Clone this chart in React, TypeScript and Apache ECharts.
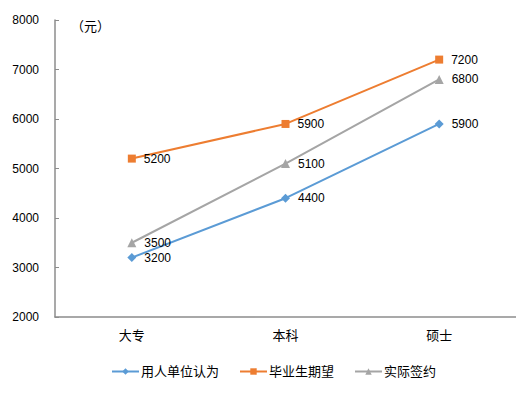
import React, { useEffect, useRef } from "react";
import * as echarts from "echarts";

const categories = ["大专", "本科", "硕士"];
const employerView = [3200, 4400, 5900];
const graduateExpect = [5200, 5900, 7200];
const actualSigned = [3500, 5100, 6800];
const seriesNames = ["用人单位认为", "毕业生期望", "实际签约"];
const yUnit = "（元）";

export default function App() {
  const ref = useRef<HTMLDivElement>(null);
  useEffect(() => {
    const chart = echarts.init(ref.current!, null, { renderer: "svg" });
    const font = "'Liberation Sans', 'Noto Sans CJK SC', sans-serif";
    const cjk = "'Noto Sans CJK SC', sans-serif";
    const lbl = {
      show: true,
      position: "right" as const,
      distance: 8,
      color: "#000",
      fontSize: 12,
      fontFamily: font,
    };
    const mk = (name: string, data: number[], color: string, symbol: string, size: number) => ({
      name,
      type: "line" as const,
      data,
      symbol,
      symbolSize: size,
      itemStyle: { color },
      lineStyle: { color, width: 2 },
      label: lbl,
    });
    chart.setOption({
      animation: false,
      backgroundColor: "#fff",
      textStyle: { fontFamily: font },
      grid: { left: 55, top: 20, width: 464, height: 297, containLabel: false },
      xAxis: {
        type: "category",
        data: categories,
        boundaryGap: true,
        axisLine: { lineStyle: { color: "#8c8c8c", width: 1.5 } },
        axisTick: { show: false },
        axisLabel: { color: "#000", fontSize: 13, margin: 12, fontFamily: font },
      },
      yAxis: {
        type: "value",
        min: 2000,
        max: 8000,
        interval: 1000,
        axisLine: { show: true, lineStyle: { color: "#8c8c8c", width: 1.5 } },
        axisTick: { show: true, inside: true, length: 4, lineStyle: { color: "#8c8c8c" } },
        splitLine: { show: false },
        axisLabel: {
          color: "#000",
          fontSize: 12,
          margin: 16,
          fontFamily: font,
          formatter: (v: number) => String(v),
        },
      },
      legend: {
        bottom: 12,
        left: 106,
        itemWidth: 27,
        itemHeight: 8,
        itemGap: 20,
        textStyle: { color: "#000", fontSize: 13, fontFamily: font, padding: [0, 0, 0, -3] },
        data: seriesNames,
      },
      graphic: [
        {
          type: "text",
          left: 71,
          top: 19,
          style: { text: yUnit, fill: "#000", font: "13px " + cjk },
        },
      ],
      series: [
        mk(seriesNames[0], employerView, "#5B9BD5", "diamond", 9),
        mk(seriesNames[1], graduateExpect, "#ED7D31", "rect", 8),
        mk(seriesNames[2], actualSigned, "#A5A5A5", "triangle", 9),
      ],
    });
    return () => chart.dispose();
  }, []);
  return (
    <div
      ref={ref}
      style={{ position: "fixed", left: 0, top: 0, width: 516, height: 395, background: "#fff" }}
    />
  );
}
